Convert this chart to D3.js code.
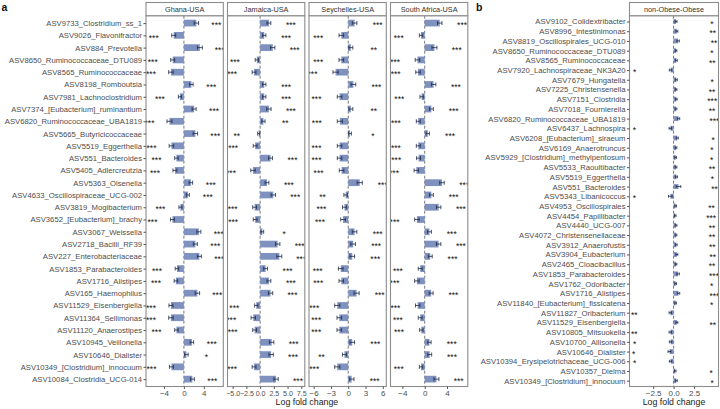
<!DOCTYPE html>
<html><head><meta charset="utf-8">
<script src="https://cdn.jsdelivr.net/npm/d3@7"></script>
<style>body{margin:0;background:#fff}svg{display:block}text{font-family:"Liberation Sans",Arial,sans-serif}</style>
</head><body><svg id="c" width="720" height="409"></svg>
<script>
const rowsA = ["ASV9733_Clostridium_ss_1","ASV9026_Flavonifractor","ASV884_Prevotella","ASV8650_Ruminococcaceae_DTU089","ASV8565_Ruminococcaceae","ASV8198_Romboutsia","ASV7981_Lachnoclostridium","ASV7374_[Eubacterium]_ruminantium","ASV6820_Ruminococcaceae_UBA1819","ASV5665_Butyricicoccaceae","ASV5519_Eggerthella","ASV551_Bacteroides","ASV5405_Adlercreutzia","ASV5363_Olsenella","ASV4633_Oscillospiraceae_UCG-002","ASV3819_Mogibacterium","ASV3652_[Eubacterium]_brachy","ASV3067_Weissella","ASV2718_Bacilli_RF39","ASV227_Enterobacteriaceae","ASV1853_Parabacteroides","ASV1716_Alistipes","ASV165_Haemophilus","ASV11529_Eisenbergiella","ASV11364_Sellimonas","ASV11120_Anaerostipes","ASV10945_Veillonella","ASV10646_Dialister","ASV10349_[Clostridium]_innocuum","ASV10084_Clostridia_UCG-014"];
const facetsA = ["Ghana-USA","Jamaica-USA","Seychelles-USA","South Africa-USA"];
const ghanaLFC = [2.5,-2.05,3.2,-2.25,-2.6,1.5,-0.8,2.05,-2.9,2.3,-2.5,-1.5,-1.8,1.4,0.8,-0.7,-2.3,3.0,2.3,3.1,-1.4,-1.6,2.7,-2.6,-2.6,-1.5,1.6,0.5,-2.5,1.7];
const ghanaSE  = [0.45,0.4,0.5,0.4,0.45,0.35,0.3,0.4,0.5,0.45,0.45,0.35,0.4,0.35,0.3,0.3,0.4,0.4,0.4,0.4,0.35,0.35,0.45,0.4,0.45,0.35,0.35,0.35,0.4,0.4];
const ghanaSig = ["***","***","***","***","***","***","***","***","***","***","***","***","***","***","***","***","***","***","***","***","***","***","***","***","***","***","***","*","***","***"];
const jamaicaLFC = [1.6,0.75,2.3,-0.6,-1.1,0.75,0.75,1.6,0.6,-0.25,-0.9,1.9,-1.3,1.25,2.4,-1.0,-0.9,0.4,3.2,3.5,1.0,1.6,1.9,-0.7,-1.25,-1.0,2.1,2.0,-1.1,2.9];
const jamaicaSE  = [0.35,0.3,0.4,0.3,0.35,0.3,0.3,0.4,0.3,0.2,0.35,0.35,0.4,0.35,0.4,0.35,0.35,0.25,0.4,0.45,0.35,0.35,0.4,0.3,0.4,0.35,0.4,0.4,0.35,0.4];
const jamaicaSig = ["***","***","***","***","***","***","***","***","**","**","***","***","***","***","***","***","***","*","***","***","***","***","***","***","***","***","***","***","***","***"];
const seychellesLFC = [1.1,-1.2,0.45,-1.2,-2.2,0.9,-1.5,0.45,-1.45,0.3,-1.5,-1.5,-1.15,2.0,-0.45,-0.65,-0.9,1.1,0.85,0.7,-1.3,-1.2,1.45,-1.9,-1.55,-1.55,0.7,-0.65,-1.9,0.6];
const seychellesSE  = [0.4,0.4,0.35,0.4,0.45,0.4,0.4,0.35,0.45,0.25,0.4,0.4,0.4,0.45,0.3,0.35,0.4,0.4,0.4,0.4,0.4,0.4,0.45,0.45,0.4,0.4,0.4,0.35,0.45,0.4];
const seychellesSig = ["***","***","**","***","***","***","***","**","***","*","***","***","***","***","**","***","***","***","***","***","***","***","***","***","***","***","***","**","***","***"];
const southAfricaLFC = [2.7,-0.65,1.75,-1.3,-1.2,1.6,-0.55,1.2,-1.15,0.55,-1.15,-1.1,-1.5,3.1,1.2,2.5,-1.4,0.85,2.5,1.0,-0.8,-1.4,1.15,-1.25,-0.8,-0.6,0.85,0.9,-0.65,2.1];
const southAfricaSE  = [0.4,0.3,0.45,0.4,0.4,0.4,0.3,0.35,0.35,0.3,0.35,0.35,0.4,0.4,0.35,0.4,0.4,0.35,0.4,0.35,0.35,0.4,0.35,0.4,0.35,0.3,0.3,0.35,0.3,0.45];
const southAfricaSig = ["***","***","***","***","***","***","***","***","***","***","***","***","***","***","***","***","***","***","***","***","***","***","***","***","***","***","***","***","***","***"];
const ticksA = [[-4,0,4],[-5,-2.5,0,2.5,5,7.5],[-6,-3,0,3,6],[-4,0,4]];
const tickFmtA = ["d",".1f","d","d"];

const rowsB = ["ASV9102_Colidextribacter","ASV8996_Intestinimonas","ASV8819_Oscillospirales_UCG-010","ASV8650_Ruminococcaceae_DTU089","ASV8565_Ruminococcaceae","ASV7920_Lachnospiraceae_NK3A20","ASV7679_Hungatella","ASV7225_Christensenella","ASV7151_Clostridia","ASV7018_Fournierella","ASV6820_Ruminococcaceae_UBA1819","ASV6437_Lachnospira","ASV6208_[Eubacterium]_siraeum","ASV6169_Anaerotruncus","ASV5929_[Clostridium]_methylpentosum","ASV5533_Raoultibacter","ASV5519_Eggerthella","ASV551_Bacteroides","ASV5343_Libanicoccus","ASV4953_Oscillospirales","ASV4454_Papillibacter","ASV4440_UCG-007","ASV4072_Christensenellaceae","ASV3912_Anaerofustis","ASV3904_Eubacterium","ASV2465_Cloacibacillus","ASV1853_Parabacteroides","ASV1762_Odoribacter","ASV1716_Alistipes","ASV11840_[Eubacterium]_fissicatena","ASV11827_Oribacterium","ASV11529_Eisenbergiella","ASV10805_Mitsuokella","ASV10700_Allisonella","ASV10646_Dialister","ASV10394_Erysipelotrichaceae_UCG-006","ASV10357_Dielma","ASV10349_[Clostridium]_innocuum"];
const facetB = "non-Obese-Obese";
const obeseLFC = [0.3,0.4,0.55,0.3,0.33,-0.37,0.33,0.3,0.33,0.3,0.6,-0.4,0.45,0.3,0.25,0.3,0.35,0.6,-0.4,0.25,0.2,0.3,0.3,0.33,0.4,0.3,0.55,0.25,0.6,0.25,-0.4,0.4,-0.4,-0.37,-0.5,-0.37,0.2,0.33];
const obeseSE  = [0.12,0.12,0.15,0.1,0.12,0.15,0.12,0.1,0.1,0.1,0.15,0.15,0.12,0.1,0.1,0.1,0.12,0.28,0.22,0.1,0.1,0.1,0.1,0.1,0.12,0.1,0.15,0.1,0.15,0.1,0.15,0.12,0.15,0.15,0.18,0.15,0.1,0.12];
const obeseSig = ["*","**","**","*","**","*","*","**","***","**","***","*","*","*","*","**","*","**","*","**","***","**","**","**","**","**","***","*","***","*","**","**","**","*","*","*","*","*"];
const ticksB = [-2.5,0,2.5];

const svg = d3.select("#c");
const FONT = '"Liberation Sans",Arial,sans-serif';
const pTop = 15.7, pBottom = 386.5, stripTop = 2.5;
const barFill = "#7f92bf", errCol = "#1e2a44", border = "#8c8c8c", txtCol = "#4d4d4d";

function panel(g, rows, lfc, se, sig, x0, x1, title, ticks, fmt, offset, barFrac, showY, clipId, tickFont) {
  const y = d3.scalePoint().domain(rows).range([pTop, pBottom]).padding(0.6);
  const starX = lfc.map(v => v + Math.sign(v) * offset);
  const vals = lfc.map((v,i)=>v-se[i]).concat(lfc.map((v,i)=>v+se[i]), starX, [0]);
  let [mn, mx] = d3.extent(vals); const pad = (mx - mn) * 0.05;
  const x = d3.scaleLinear().domain([mn - pad, mx + pad]).range([x0, x1]);
  const bh = y.step() * barFrac;
  svg.append("clipPath").attr("id", clipId).append("rect").attr("x", x0).attr("y", pTop).attr("width", x1 - x0).attr("height", pBottom - pTop);
  const p = g.append("g").attr("clip-path", `url(#${clipId})`);
  p.append("line").attr("x1", x(0)).attr("x2", x(0)).attr("y1", pTop).attr("y2", pBottom)
    .attr("stroke", "#555").attr("stroke-width", 0.8).attr("stroke-dasharray", "3,2");
  const data = rows.map((r,i)=>({r, v: lfc[i], s: se[i], sig: sig[i], sx: starX[i]}));
  p.selectAll(".bar").data(data).join("rect").attr("class","bar")
    .attr("x", d => x(Math.min(0, d.v))).attr("width", d => Math.abs(x(d.v) - x(0)))
    .attr("y", d => y(d.r) - bh/2).attr("height", bh).attr("fill", barFill);
  const eb = p.selectAll(".eb").data(data).join("g").attr("class","eb");
  eb.append("line").attr("x1", d => x(d.v - d.s)).attr("x2", d => x(d.v + d.s)).attr("y1", d => y(d.r)).attr("y2", d => y(d.r)).attr("stroke", errCol).attr("stroke-width", 0.8);
  [-1,1].forEach(k => eb.append("line").attr("x1", d => x(d.v + k*d.s)).attr("x2", d => x(d.v + k*d.s))
    .attr("y1", d => y(d.r) - bh*0.3).attr("y2", d => y(d.r) + bh*0.3).attr("stroke", errCol).attr("stroke-width", 0.8));
  p.selectAll(".st").data(data).join("text").attr("class","st")
    .attr("x", d => x(d.sx)).attr("y", d => y(d.r) + 5.2).attr("text-anchor","middle")
    .attr("font-size", 8.5).attr("fill", "#111").text(d => d.sig);
  g.append("rect").attr("x", x0).attr("y", pTop).attr("width", x1-x0).attr("height", pBottom-pTop)
    .attr("fill","none").attr("stroke", border).attr("stroke-width", 1.1);
  g.append("rect").attr("x", x0).attr("y", stripTop).attr("width", x1-x0).attr("height", pTop-stripTop)
    .attr("fill","#fff").attr("stroke", border).attr("stroke-width", 1.1);
  g.append("text").attr("x", (x0+x1)/2).attr("y", (stripTop+pTop)/2 + 2.6).attr("text-anchor","middle")
    .attr("font-size", 7.3).attr("fill", "#333").text(title);
  const xa = g.append("g").attr("transform", `translate(0,${pBottom})`)
    .call(d3.axisBottom(x).tickValues(ticks).tickFormat(d3.format(fmt)).tickSize(2.5).tickPadding(1.5));
  xa.select(".domain").remove();
  xa.selectAll("line").attr("stroke", "#555");
  xa.selectAll("text").attr("font-size", tickFont).attr("fill", txtCol).attr("font-family", FONT);
  if (showY) {
    const ya = g.append("g").attr("transform", `translate(${x0},0)`)
      .call(d3.axisLeft(y).tickSize(2.5).tickPadding(1.5));
    ya.select(".domain").remove();
    ya.selectAll("line").attr("stroke", "#555");
    ya.selectAll("text").attr("font-size", 7.7).attr("fill", txtCol).attr("font-family", FONT);
  }
  return x;
}

const gA = svg.append("g");
const lfcA = [ghanaLFC, jamaicaLFC, seychellesLFC, southAfricaLFC];
const seA = [ghanaSE, jamaicaSE, seychellesSE, southAfricaSE];
const sigA = [ghanaSig, jamaicaSig, seychellesSig, southAfricaSig];
const aLeft = 146, aW = 77.3, aGap = 4.2;
facetsA.forEach((f, i) => {
  const x0 = aLeft + i * (aW + aGap);
  panel(gA, rowsA, lfcA[i], seA[i], sigA[i], x0, x0 + aW, f, ticksA[i], tickFmtA[i], 4, 0.55, i === 0, "clipA" + i, i === 1 ? 7.1 : 8);
});
const aRight = aLeft + 4*aW + 3*aGap;
gA.append("text").attr("x", (aLeft + aRight)/2).attr("y", 405).attr("text-anchor","middle")
  .attr("font-size", 8.8).attr("fill", "#222").text("Log fold change");
svg.append("text").attr("x", 1.5).attr("y", 11).attr("font-size", 10.5).attr("font-weight","bold").attr("fill","#111").text("a");

const gB = svg.append("g");
panel(gB, rowsB, obeseLFC, obeseSE, obeseSig, 629.5, 718.5, facetB, ticksB, ".1f", 4.4, 0.5, true, "clipB", 8);
gB.append("text").attr("x", (629.5 + 718.5)/2).attr("y", 405).attr("text-anchor","middle")
  .attr("font-size", 8.8).attr("fill", "#222").text("Log fold change");
svg.append("text").attr("x", 476).attr("y", 11).attr("font-size", 10.5).attr("font-weight","bold").attr("fill","#111").text("b");
</script></body></html>
